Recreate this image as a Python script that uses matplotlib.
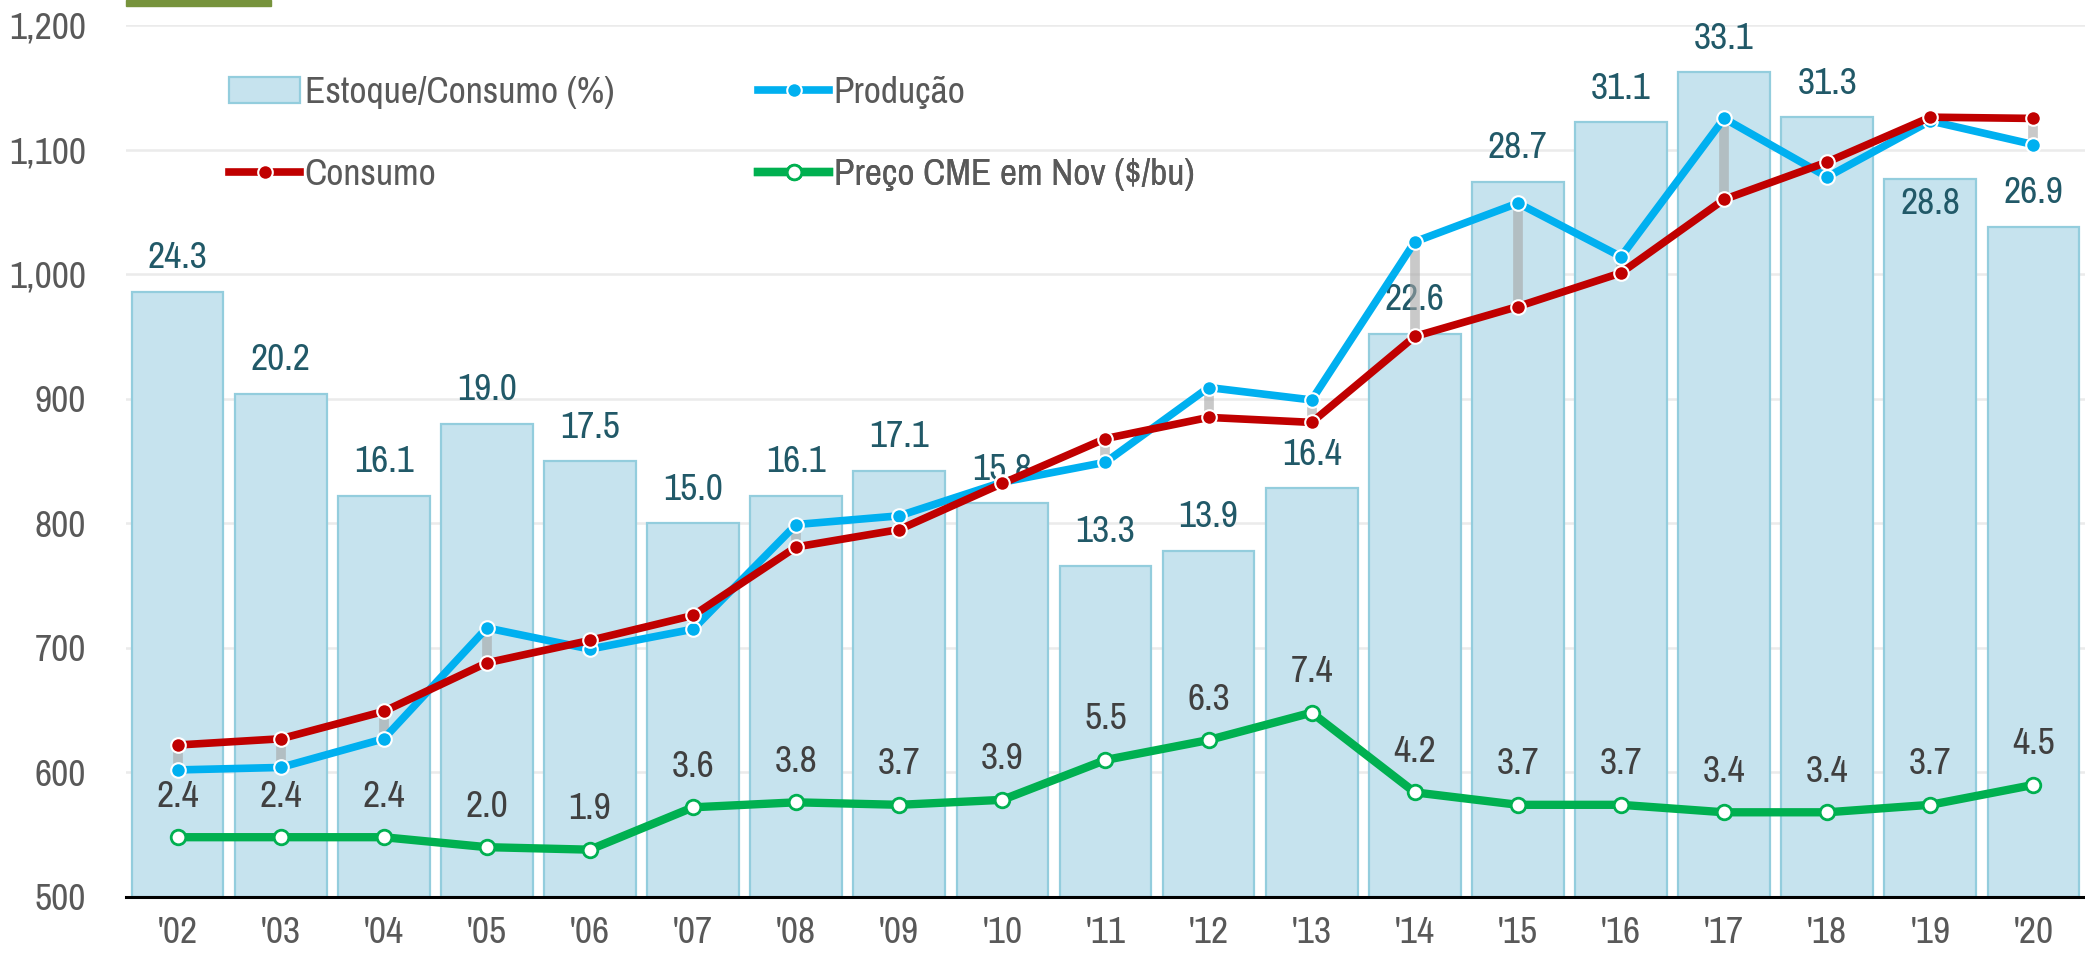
import matplotlib
matplotlib.use("Agg")
import matplotlib.pyplot as plt
from matplotlib.patches import Patch, Rectangle
from matplotlib.lines import Line2D
import numpy as np

plt.rcParams['font.family'] = ['Liberation Sans Narrow', 'Arial Narrow', 'Archivo Narrow',
                               'PT Sans Narrow', 'Roboto Condensed', 'Fira Sans Condensed',
                               'DejaVu Sans']

years = ["'02", "'03", "'04", "'05", "'06", "'07", "'08", "'09", "'10", "'11",
         "'12", "'13", "'14", "'15", "'16", "'17", "'18", "'19", "'20"]
estoque_consumo = [24.3, 20.2, 16.1, 19.0, 17.5, 15.0, 16.1, 17.1, 15.8, 13.3,
                   13.9, 16.4, 22.6, 28.7, 31.1, 33.1, 31.3, 28.8, 26.9]
producao = [602, 604, 627, 716, 699, 715, 799, 806, 833, 849,
            909, 899, 1026, 1057, 1014, 1125, 1078, 1123, 1104]
consumo = [622, 627, 649, 688, 706, 726, 781, 795, 832, 868,
           885, 881, 950, 974, 1001, 1060, 1090, 1126, 1125]
preco = [2.4, 2.4, 2.4, 2.0, 1.9, 3.6, 3.8, 3.7, 3.9, 5.5,
         6.3, 7.4, 4.2, 3.7, 3.7, 3.4, 3.4, 3.7, 4.5]

W, H = 2085, 957
fig = plt.figure(figsize=(W / 100, H / 100), dpi=100)
ax = fig.add_axes([126 / W, 1 - 897 / H, 1 - 126 / W, (897 - 25) / H])
ax2 = ax.twinx()

x = np.arange(len(years))
FS = 27
BLUE, RED, GREEN = '#00B0F0', '#C00000', '#00B050'
LW, MS = 5.5, 10.5

# secondary scale (bars + price)
ax.set_ylim(0, 35)
ax.set_xlim(-0.5, len(years) - 0.5)
ax.bar(x, estoque_consumo, width=0.89, color='#C6E3EE', edgecolor='#93CDDD',
       linewidth=1.6, zorder=2)
ax.plot(x, preco, color=GREEN, lw=6, marker='o', markersize=MS,
        markerfacecolor='white', markeredgecolor=GREEN, markeredgewidth=2, zorder=4)
ax.set_yticks(np.arange(0, 36, 5))
ax.yaxis.grid(True, color='#EBEBEB', lw=1.8, zorder=0)
ax.set_axisbelow(True)
ax.tick_params(axis='y', left=False, right=False, labelleft=False, labelright=False)

for i, v in enumerate(estoque_consumo):
    off = -24 if years[i] == "'19" else 34
    ax.annotate(f"{v:.1f}", (x[i], v), xytext=(0, off * 0.72), textcoords='offset points',
                ha='center', va='center', fontsize=FS, color='#215968', zorder=6)
for i, v in enumerate(preco):
    ax.annotate(f"{v:.1f}", (x[i], v), xytext=(0, 41 * 0.72), textcoords='offset points',
                ha='center', va='center', fontsize=FS, color='#404040', zorder=6)

# primary scale (production / consumption)
ax2.set_ylim(500, 1200)
ax2.vlines(x, producao, consumo, color='#A6A6A6', alpha=0.6, lw=7, zorder=2)
ax2.plot(x, producao, color=BLUE, lw=LW, marker='o', markersize=MS,
         markerfacecolor=BLUE, markeredgecolor='white', markeredgewidth=1.5, zorder=3)
ax2.plot(x, consumo, color=RED, lw=LW, marker='o', markersize=MS,
         markerfacecolor=RED, markeredgecolor='white', markeredgewidth=1.5, zorder=4)
ax2.yaxis.tick_left()
ax2.set_yticks(np.arange(500, 1201, 100))
ax2.set_yticklabels([f"{t:,}" for t in range(500, 1201, 100)])
ax2.tick_params(axis='y', length=0, pad=29, labelsize=FS, labelcolor='#595959')

ax.set_xticks(x)
ax.set_xticklabels(years)
ax.tick_params(axis='x', length=0, pad=14, labelsize=FS, labelcolor='#595959')

for a in (ax, ax2):
    for s in ('top', 'right', 'left', 'bottom'):
        a.spines[s].set_visible(False)
ax2.spines['bottom'].set_visible(True)
ax2.spines['bottom'].set_color('black')
ax2.spines['bottom'].set_linewidth(2.2)
ax2.spines['bottom'].set_zorder(10)

# legend: four entries, two rows x two columns
h_bar = Patch(facecolor='#C6E3EE', edgecolor='#93CDDD', linewidth=1.6)
h_cons = Line2D([], [], color=RED, lw=LW, marker='o', markersize=MS,
                markerfacecolor=RED, markeredgecolor='white', markeredgewidth=1.5)
h_prod = Line2D([], [], color=BLUE, lw=LW, marker='o', markersize=MS,
                markerfacecolor=BLUE, markeredgecolor='white', markeredgewidth=1.5)
h_prec = Line2D([], [], color=GREEN, lw=6, marker='o', markersize=MS,
                markerfacecolor='white', markeredgecolor=GREEN, markeredgewidth=2)
axw = W - 126
axh = 897 - 25
col_x = [(229 - 126) / axw, (758 - 126) / axw]
row_y = [1 - (93 - 25) / axh, 1 - (175 - 25) / axh]
entries = [(h_bar, 'Estoque/Consumo (%)', 0, 0), (h_prod, 'Produção', 1, 0),
           (h_cons, 'Consumo', 0, 1), (h_prec, 'Preço CME em Nov ($/bu)', 1, 1)]
for h, lab, c, r in entries:
    lg = ax2.legend([h], [lab], loc='center left', bbox_to_anchor=(col_x[c], row_y[r]),
                    frameon=False, fontsize=FS, labelcolor='#595959', handlelength=1.9,
                    handletextpad=0.12, borderaxespad=0, borderpad=0)
    ax2.add_artist(lg)

# olive accent bar at top-left
fig.patches.append(Rectangle((126 / W, 1 - 6 / H), (271 - 126) / W, 6 / H,
                             transform=fig.transFigure, color='#77933C', zorder=10))

fig.savefig('out.png', dpi=100)
